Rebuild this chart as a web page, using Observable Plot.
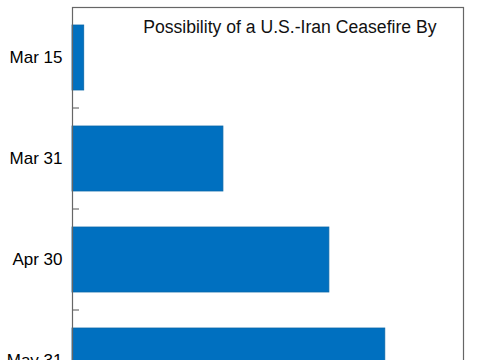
<!DOCTYPE html>
<html>
<head>
<meta charset="utf-8">
<script src="https://cdn.jsdelivr.net/npm/d3@7"></script>
<script src="https://cdn.jsdelivr.net/npm/@observablehq/plot@0.6"></script>
<style>
  html, body { margin: 0; padding: 0; overflow: hidden; background: #fff; }
  #chart { width: 485px; height: 360px; overflow: hidden; }
</style>
</head>
<body>
<div id="chart"></div>
<script>
const categories = ["Mar 15", "Mar 31", "Apr 30", "May 31"];
const values = [3, 38.6, 65.7, 80];
const title = "Possibility of a U.S.-Iran Ceasefire By";

const data = categories.map((c, i) => ({category: c, value: values[i]}));

// ticks drawn at band boundaries, derived from the y band scale
function boundaryTicks(index, scales, values, dims) {
  const y = scales.y;
  const gap = (y.step() - y.bandwidth()) / 2;
  const g = d3.create("svg:g");
  for (const c of categories.slice(1)) {
    const yy = y(c) - gap;
    g.append("line")
      .attr("x1", dims.marginLeft).attr("x2", dims.marginLeft + 7)
      .attr("y1", yy).attr("y2", yy)
      .attr("stroke", "#555").attr("stroke-width", 1);
  }
  return g.node();
}

const chart = Plot.plot({
  width: 485,
  height: 448,
  marginTop: 7,
  marginLeft: 72,
  marginRight: 22,
  marginBottom: 37,
  style: {fontFamily: "'Liberation Sans', Arial, sans-serif", fontSize: "17px", color: "#000", background: "#fff"},
  x: {domain: [0, 100], axis: null},
  y: {domain: categories, paddingInner: 0.36, paddingOuter: 0.18, label: null},
  marks: [
    Plot.barX(data, {y: "category", x: "value", fill: "#0070c0", stroke: "#0866a8", strokeWidth: 0.8}),
    Plot.axisY({tickSize: 0, tickPadding: 10, fontSize: 17, label: null}),
    boundaryTicks,
    Plot.frame({stroke: "#666", strokeWidth: 1.2}),
    Plot.text([title], {frameAnchor: "top-right", dx: -27, dy: 13, lineAnchor: "top", fontSize: 17.6, fill: "#111"})
  ]
});
document.getElementById("chart").appendChild(chart);
</script>
</body>
</html>
